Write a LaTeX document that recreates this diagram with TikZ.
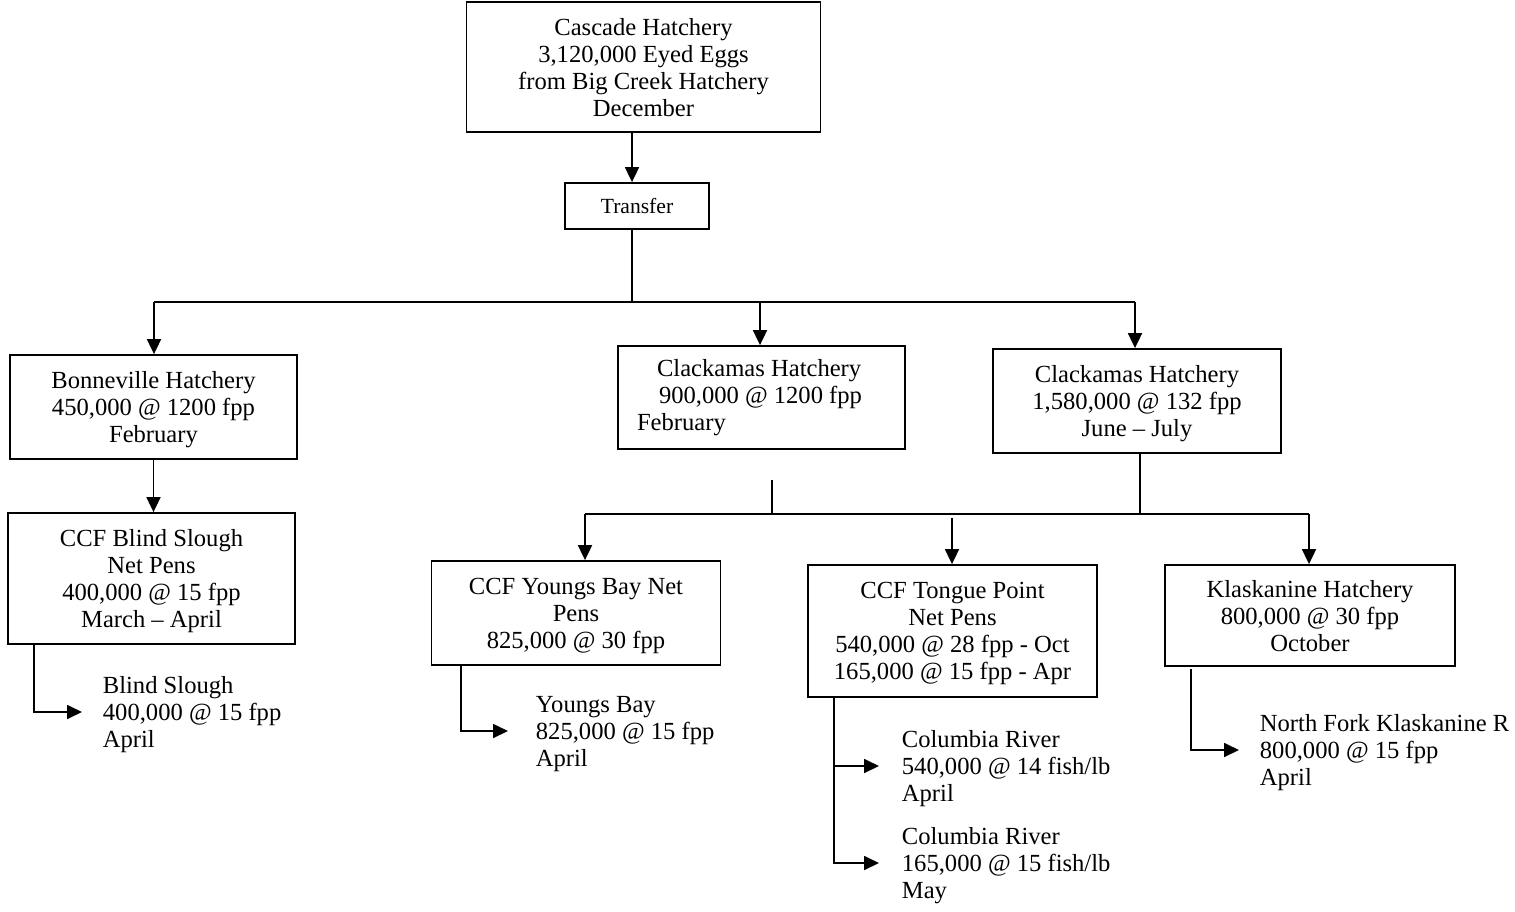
\documentclass[tikz,border=0pt]{standalone}
\usepackage{fontspec}
\setmainfont{Liberation Serif}
\usetikzlibrary{arrows.meta,positioning}

\tikzset{
  box/.style={draw, align=center, inner sep=0pt, text depth=0pt},
  release/.style={anchor=west, align=left, inner sep=0pt, text depth=0pt},
}

\begin{document}
\begin{tikzpicture}[x=0.5pt, y=-0.5pt, line width=0.9pt, >={Triangle[length=7.5pt,width=7pt]},
  every node/.style={font=\fontsize{12.3}{13.5}\selectfont}]
  \useasboundingbox (0,0) rectangle (1515,911);
  % boxes
  \draw (643.5,67)node[box, minimum width=177pt, minimum height=65pt](cascade){Cascade Hatchery\\3,120,000 Eyed Eggs\\from Big Creek Hatchery\\December};
  \draw (637,206)node[box, minimum width=72pt, minimum height=23pt, font=\fontsize{10.8}{12}\selectfont](transfer){Transfer};
  \draw (153.5,407)node[box, minimum width=143.5pt, minimum height=52pt](bonn){Bonneville Hatchery\\450,000 @ 1200 fpp\\February};
  \draw (761.5,397.5)node[box, minimum width=143.5pt, minimum height=51.5pt, align=flush left, text width=124.5pt, text depth={}](clackA){\hspace*{10pt}Clackamas Hatchery\\\hspace*{11pt}900,000 @ 1200 fpp\\February};
  \draw (1137,401)node[box, minimum width=144pt, minimum height=52pt](clackB){Clackamas Hatchery\\1,580,000 @ 132 fpp\\June -- July};
  \draw (151.5,578.5)node[box, minimum width=143.5pt, minimum height=65.5pt](blind){CCF Blind Slough\\Net Pens\\400,000 @ 15 fpp\\March -- April};
  \draw (576,613)node[box, minimum width=144.5pt, minimum height=52pt](youngs){CCF Youngs Bay Net\\Pens\\825,000 @ 30 fpp};
  \draw (952.5,631)node[box, minimum width=144.5pt, minimum height=66pt](tongue){CCF Tongue Point\\Net Pens\\540,000 @ 28 fpp - Oct\\165,000 @ 15 fpp - Apr};
  \draw (1310,615.5)node[box, minimum width=145pt, minimum height=50.5pt](klask){Klaskanine Hatchery\\800,000 @ 30 fpp\\October};
  % releases
  \draw (102,712)node[release](blindrel){Blind Slough\\400,000 @ 15 fpp\\April};
  \draw (535,731)node[release](youngsrel){Youngs Bay\\825,000 @ 15 fpp\\April};
  \draw (901,766)node[release](colA){Columbia River\\540,000 @ 14 fish/lb\\April};
  \draw (901,863)node[release](colB){Columbia River\\165,000 @ 15 fish/lb\\May};
  \draw (1259,750)node[release](klaskrel){North Fork Klaskanine R\\800,000 @ 15 fpp\\April};
  % junctions
  \coordinate (hub) at (632,302);
  \coordinate (busL) at (154,302);
  \coordinate (busM) at (760,302);
  \coordinate (busR) at (1135,302);
  \coordinate (stub) at (772,480);
  \coordinate (bus2L) at (585,514);
  \coordinate (bus2M) at (952,518);
  \coordinate (bus2R) at (1309,514);
  \coordinate (drop) at (1140,514);
  % connectors
  \draw[->] (cascade.south -| hub) -- (transfer.north -| hub);
  \draw (transfer.south -| hub) -- (hub);
  \draw (busL) -- (busR);
  \draw[->] (busL) -- (bonn.north -| busL);
  \draw[->] (busM) -- (clackA.north -| busM);
  \draw[->] (busR) -- (clackB.north -| busR);
  \draw[->] (bonn.south) -- (bonn.south |- blind.north);
  \draw (stub) -- (stub |- bus2L);
  \draw (clackB.south -| drop) -- (drop);
  \draw (bus2L) -- (bus2R);
  \draw[->] (bus2L) -- (youngs.north -| bus2L);
  \draw[->] (bus2M) -- (tongue.north -| bus2M);
  \draw[->] (bus2R) -- (klask.north -| bus2R);
  \draw[->] ([xshift=13.5pt]blind.south west) |- ([xshift=-10pt]blindrel.west);
  \draw[->] ([xshift=15pt]youngs.south west) |- ([xshift=-13.5pt]youngsrel.west);
  \draw[->] ([xshift=13.5pt]tongue.south west) |- ([xshift=-11pt]colA.west);
  \draw[->] ([xshift=13.5pt]tongue.south west) |- ([xshift=-11pt]colB.west);
  \draw[->] ([xshift=13.3pt,yshift=-1pt]klask.south west) |- ([xshift=-10pt]klaskrel.west);
\end{tikzpicture}
\end{document}
